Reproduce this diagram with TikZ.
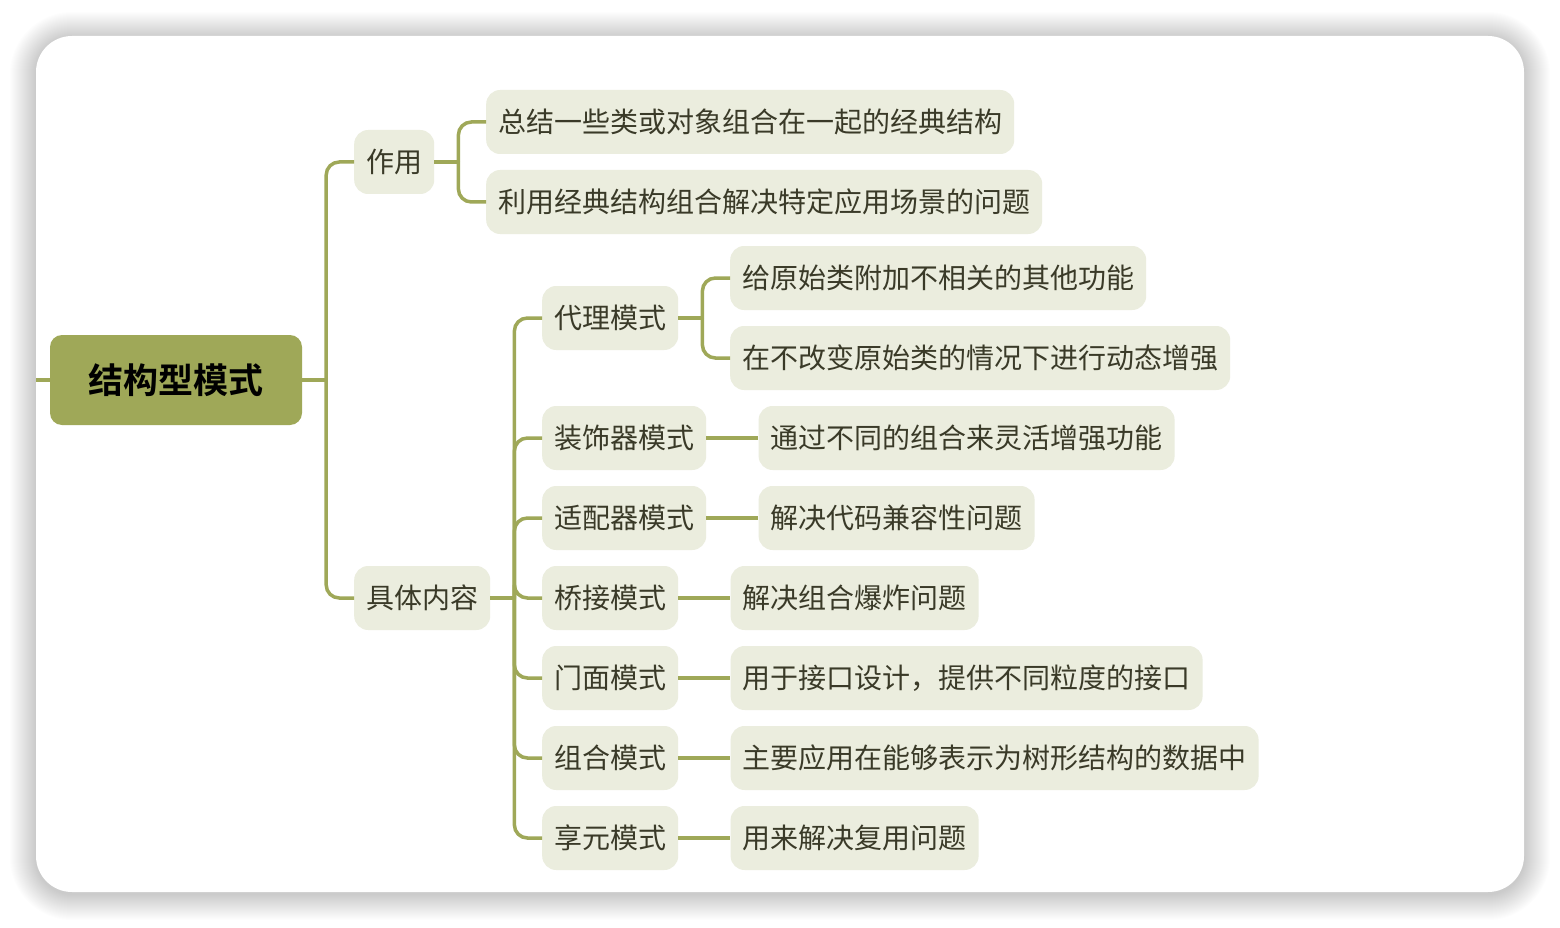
\documentclass[tikz,border=0pt]{standalone}
\usepackage{fontspec}
\usepackage{xcolor}
\usepackage{tikz}
\usetikzlibrary{positioning}
\newfontfamily\cjk[BoldFont={Noto Sans CJK SC Bold}]{Noto Sans CJK SC}
\definecolor{oliveA}{HTML}{9FA858}
\definecolor{oliveB}{HTML}{EBEDDE}
\definecolor{inkA}{HTML}{3A3A28}
\tikzset{
  card/.style={fill=white, rounded corners=36pt},
  haze/.style={fill=black, opacity=0.0075},
  rootbox/.style={
    fill=oliveA, rounded corners=12pt, text=black,
    minimum width=252pt, minimum height=90pt, inner sep=0pt,
    font=\cjk\fontsize{35}{40}\selectfont\bfseries
  },
  topic/.style={
    fill=oliveB, rounded corners=14pt, text=inkA, anchor=west,
    minimum height=64pt, inner xsep=12pt, inner ysep=0pt,
    font=\cjk\fontsize{28}{34}\selectfont
  },
  link/.style={draw=oliveA, line width=3.5pt, rounded corners=13pt}
}
\begin{document}
\begin{tikzpicture}[x=1pt, y=-1pt]
  \useasboundingbox (0,0) rectangle (1560,928);
  \fill[white] (0,0) rectangle (1560,928);
  % soft shadow round the card
  \foreach \d in {1,...,26}
    \path[haze, rounded corners={36pt+\d pt}]
      (36-\d, 38-\d) rectangle (1524+\d, 894+\d);
  \path[card] (36,36) rectangle (1524,892);

  % root and first level
  \node[rootbox] (root) at (176,380) {结构型模式};
  \coordinate (edge) at (36,380);
  \node[topic] (zuoyong) at (354,162) {作用};
  \node[topic] (neirong) at (354,598) {具体内容};

  % 作用
  \node[topic] (zy1) at (486,122) {总结一些类或对象组合在一起的经典结构};
  \node[topic] (zy2) at (486,202) {利用经典结构组合解决特定应用场景的问题};

  % 具体内容
  \node[topic] (daili)     at (542,318) {代理模式};
  \node[topic] (zhuangshi) at (542,438) {装饰器模式};
  \node[topic] (shipei)    at (542,518) {适配器模式};
  \node[topic] (qiaojie)   at (542,598) {桥接模式};
  \node[topic] (menmian)   at (542,678) {门面模式};
  \node[topic] (zuhe)      at (542,758) {组合模式};
  \node[topic] (xiangyuan) at (542,838) {享元模式};

  \node[topic] (dl1) at (730,278) {给原始类附加不相关的其他功能};
  \node[topic] (dl2) at (730,358) {在不改变原始类的情况下进行动态增强};
  \node[topic, right=52pt of zhuangshi] (zs1) {通过不同的组合来灵活增强功能};
  \node[topic, right=52pt of shipei]    (sp1) {解决代码兼容性问题};
  \node[topic, right=52pt of qiaojie]   (qj1) {解决组合爆炸问题};
  \node[topic, right=52pt of menmian]   (mm1) {用于接口设计，提供不同粒度的接口};
  \node[topic, right=52pt of zuhe]      (zh1) {主要应用在能够表示为树形结构的数据中};
  \node[topic, right=52pt of xiangyuan] (xy1) {用来解决复用问题};

  % connectors
  \draw[link] (edge) -- (root.west);
  \draw[link] (root.east) -- ++(24,0) coordinate (rj);
  \foreach \n in {zuoyong, neirong}
    \draw[link] (rj) |- (\n.west);

  \draw[link] (zuoyong.east) -- ++(24,0) coordinate (zj);
  \foreach \n in {zy1, zy2}
    \draw[link] (zj) |- (\n.west);

  \draw[link] (neirong.east) -- ++(24,0) coordinate (nj);
  \foreach \n in {daili, zhuangshi, shipei, qiaojie, menmian, zuhe, xiangyuan}
    \draw[link] (nj) |- (\n.west);

  \draw[link] (daili.east) -- ++(24,0) coordinate (dj);
  \foreach \n in {dl1, dl2}
    \draw[link] (dj) |- (\n.west);

  \draw[link] (zhuangshi) -- (zs1);
  \draw[link] (shipei) -- (sp1);
  \draw[link] (qiaojie) -- (qj1);
  \draw[link] (menmian) -- (mm1);
  \draw[link] (zuhe) -- (zh1);
  \draw[link] (xiangyuan) -- (xy1);
\end{tikzpicture}
\end{document}
